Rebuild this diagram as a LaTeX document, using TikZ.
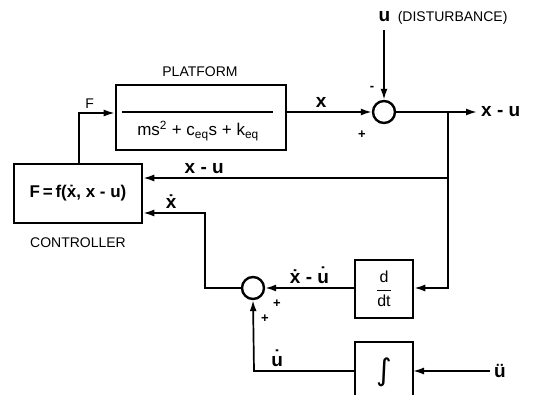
\documentclass[tikz,border=0pt]{standalone}
\usepackage{fontspec}
\setmainfont{Liberation Sans}
\newfontfamily\symbfont{DejaVu Sans}
\usetikzlibrary{arrows.meta}
\begin{document}
\begin{tikzpicture}[x=1pt, y=-1pt, >={Latex[length=11pt,width=7pt]}, font=\fontsize{14}{16}\selectfont,
    blk/.style={draw, line width=2.6pt, inner sep=0pt},
    sumnode/.style={draw, circle, line width=2.4pt, minimum size=22pt, inner sep=0pt},
    sig/.style={line width=1.7pt},
    lbl/.style={font=\fontsize{19}{21}\selectfont\bfseries},
    pm/.style={font=\fontsize{13}{14}\selectfont\bfseries}]
    \useasboundingbox (0,0) rectangle (537,395);

    % blocks
    \node[blk, minimum width=170pt, minimum height=65pt] (plat) at (201,117.5) {};
    \node[blk, minimum width=128pt, minimum height=59pt] (ctrl) at (78,193.5) {};
    \node[blk, minimum width=58pt, minimum height=58pt] (ddt) at (384,289) {};
    \node[sumnode] (s1) at (384,112) {};
    \node[sumnode] (s2) at (253,288) {};

    \node at (200,72) {PLATFORM};
    \draw[line width=1.4pt] (122,112) -- (273,112);
    \node[font=\fontsize{17}{18}\selectfont] at (198,131) {ms\textsuperscript{2} + c\textsubscript{eq}s + k\textsubscript{eq}};
    \node[font=\fontsize{17}{18}\selectfont\bfseries] at (ctrl.center) {F\,=\,f(\.x, x - u)};
    \node at (78,243) {CONTROLLER};
    \node[font=\fontsize{16}{17}\selectfont] at (ddt.center) {$\displaystyle\frac{\mbox{d}}{\mbox{dt}}$};

    % integrator (runs off the bottom edge)
    \begin{scope}
      \clip (0,0) rectangle (537,395);
      \draw[blk] (355,342) rectangle (413,400);
    \end{scope}
    \coordinate (intR) at (413,371);
    \coordinate (intL) at (355,371);
    \node[font=\fontsize{30}{30}\selectfont\symbfont] at (384,372) {∫};

    % platform and disturbance
    \coordinate (dist) at (384,30);
    \coordinate (out) at (477,112);
    \coordinate (br) at (448,112);
    \node[lbl, anchor=base west] at (375,22) {u \normalfont\fontsize{14}{16}\selectfont\,(DISTURBANCE)};
    \draw[sig, ->] (plat.east |- s1) -- (s1.west) node[pos=0.4, above, lbl] {x};
    \draw[sig, ->] (dist) -- (s1.north);
    \draw[sig, ->] (s1.east) -- (out) node[right, lbl] {x - u};
    \node[pm] at (372,88) {-};
    \node[pm] at (362,135) {+};

    % feedback to controller
    \draw[sig, ->] (br) -- (448,178) -- (ctrl.east |- 0,178) node[pos=0.8, above, lbl] {x - u};
    \draw[sig, ->] (448,178) -- (448,288) -- (ddt.east |- 0,288);
    \draw[sig, ->] (ddt.west |- 0,288) -- (s2.east) node[midway, above, lbl] {\.x - \.u};
    \draw[sig, ->] (s2.west) -- (205,288) -- (205,213) -- (ctrl.east |- 0,213) node[pos=0.55, above, lbl] {\.x};
    \node[pm] at (277,304) {+};
    \node[pm] at (265,319) {+};

    % integrator input and output
    \draw[sig, ->] (490,371) node[right, lbl] {\"u} -- (intR);
    \draw[sig, ->] (intL) -- (254,371) node[pos=0.87, above right, lbl] {\.u} -- (s2.south);

    % control force
    \draw[sig, ->] (ctrl.north -| 79,0) -- (79,113) -- (plat.west |- 0,113) node[pos=0.3, above] {F};
  \end{tikzpicture}
\end{document}
